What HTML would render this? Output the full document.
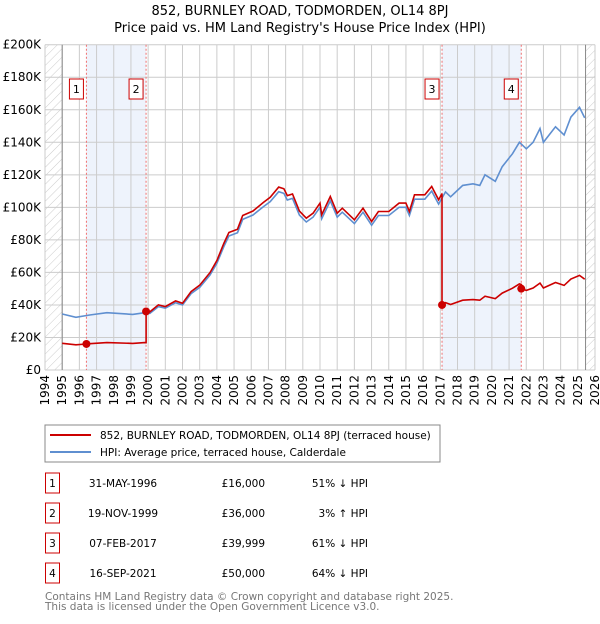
<!DOCTYPE html>
<html><head><meta charset="utf-8"><style>
body{margin:0;background:#fff;font-family:"DejaVu Sans","Liberation Sans",sans-serif;}
svg text{font-family:"DejaVu Sans","Liberation Sans",sans-serif;}
</style></head><body>
<svg id="chart" width="600" height="620" xmlns="http://www.w3.org/2000/svg">
<defs><pattern id="hatch" width="6" height="6" patternUnits="userSpaceOnUse" patternTransform="rotate(45)"><line x1="0" y1="0" x2="0" y2="6" stroke="#ccc" stroke-width="1"/></pattern></defs>
<text x="300" y="15" text-anchor="middle" font-size="13">852, BURNLEY ROAD, TODMORDEN, OL14 8PJ</text>
<text x="300" y="32" text-anchor="middle" font-size="13">Price paid vs. HM Land Registry's House Price Index (HPI)</text>
<g id="plot"></g>
<rect x="45" y="425" width="395" height="37" fill="#fff" stroke="#888"/>
<line x1="50" y1="435" x2="91" y2="435" stroke="#cc0000" stroke-width="2"/>
<text x="100" y="439" font-size="10.5">852, BURNLEY ROAD, TODMORDEN, OL14 8PJ (terraced house)</text>
<line x1="50" y1="452" x2="91" y2="452" stroke="#5f8fd0" stroke-width="2"/>
<text x="100" y="456" font-size="10.5">HPI: Average price, terraced house, Calderdale</text>
<g id="table"></g>
<text x="45" y="600" font-size="10.5" fill="#777">Contains HM Land Registry data © Crown copyright and database right 2025.</text>
<text x="45" y="610" font-size="10.5" fill="#777">This data is licensed under the Open Government Licence v3.0.</text>
</svg>
<script>
const hpiYears=[1995,1995.8,1996.6,1997.6,1999.1,1999.8,2000.1,2000.6,2001,2001.6,2002,2002.5,2003,2003.6,2004,2004.4,2004.7,2005.2,2005.5,2006.1,2006.7,2007.1,2007.6,2007.9,2008.1,2008.4,2008.8,2009.2,2009.6,2010.0,2010.1,2010.6,2011.0,2011.3,2012,2012.5,2013.0,2013.4,2014,2014.6,2015,2015.2,2015.5,2016.1,2016.5,2016.9,2017.3,2017.6,2017.8,2018.3,2018.9,2019.3,2019.6,2020.2,2020.6,2021.2,2021.6,2022.0,2022.4,2022.8,2023.0,2023.7,2024.2,2024.6,2025.1,2025.4];
const hpiValues=[34.4,32.4,33.8,35.2,34.2,35.2,34.8,39,38,41.4,40,47,50.8,58.4,65.6,75.8,82.4,84.4,92.6,95.3,100.4,103.5,109.6,108.6,104.5,105.5,95.3,91,94,100,93,104,94,97,90,97,89,95,95,100,100,95,105,105,110,102,109.5,106.5,108.5,113.5,114.5,113.5,120,116,125,133,140,136,140,148.5,140,149.5,144.5,155.5,161.5,155];
const saleYears=[1996.41,1999.88,2017.10,2021.71];
const salePrices=[16000,36000,39999,50000];
const saleDates=["31-MAY-1996","19-NOV-1999","07-FEB-2017","16-SEP-2021"];
const salePriceLabels=["£16,000","£36,000","£39,999","£50,000"];
const saleHpiLabels=["51% ↓ HPI","3% ↑ HPI","61% ↓ HPI","64% ↓ HPI"];
const yTicks=[0,20,40,60,80,100,120,140,160,180,200];
const xTicks=[1994,1995,1996,1997,1998,1999,2000,2001,2002,2003,2004,2005,2006,2007,2008,2009,2010,2011,2012,2013,2014,2015,2016,2017,2018,2019,2020,2021,2022,2023,2024,2025,2026];

const NS="http://www.w3.org/2000/svg";
const X0=45,X1=595,Y0=370,Y1=44.7,YMIN=1994,YMAX=2026,VMAX=200;
function xs(t){return X0+(t-YMIN)/(YMAX-YMIN)*(X1-X0);}
function ys(v){return Y0-v/VMAX*(Y0-Y1);}
function mk(tag,attrs,parent){const e=document.createElementNS(NS,tag);for(const k in attrs)e.setAttribute(k,attrs[k]);parent.appendChild(e);return e;}
function hpiAt(t){for(let i=0;i<hpiYears.length-1;i++){if(t<=hpiYears[i+1]){const f=(t-hpiYears[i])/(hpiYears[i+1]-hpiYears[i]);return hpiValues[i]+f*(hpiValues[i+1]-hpiValues[i]);}}return hpiValues[hpiValues.length-1];}
const plot=document.getElementById('plot');

for(let i=0;i<saleYears.length;i+=2){
 const b=mk('rect',{x:xs(saleYears[i]),y:Y1,width:xs(saleYears[i+1])-xs(saleYears[i]),height:Y0-Y1,fill:'#eef3fc'},plot);
 
 
}
const h1=mk('rect',{x:X0,y:Y1,width:xs(1995)-X0,height:Y0-Y1,fill:'url(#hatch)'},plot);


const h2=mk('rect',{x:xs(2025.45),y:Y1,width:X1-xs(2025.45),height:Y0-Y1,fill:'url(#hatch)'},plot);


yTicks.forEach(v=>{
 const l=mk('line',{x1:X0,x2:X1,y1:ys(v),y2:ys(v),stroke:'#ccc'},plot);
 
 
 const t=mk('text',{x:X0-4,y:ys(v)+4,'text-anchor':'end','font-size':'12'},plot);
 
 
 t.textContent=v===0?'£0':'£'+v+'K';
});
xTicks.forEach(yr=>{
 const l=mk('line',{x1:xs(yr),x2:xs(yr),y1:Y1,y2:Y0,stroke:'#ccc'},plot);
 
 
 const t=mk('text',{x:0,y:0,'text-anchor':'end','font-size':'12',transform:`translate(${xs(yr)+4},${Y0+5}) rotate(-90)`},plot);
 
 
 t.textContent=yr;
});
[xs(1995),xs(2025.45)].forEach(x=>{
 const l=mk('line',{x1:x,x2:x,y1:Y1,y2:Y0,stroke:'#888'},plot);
 
 
});
saleYears.forEach((t,i)=>{
 const l=mk('line',{x1:xs(t),x2:xs(t),y1:Y1,y2:Y0,stroke:'#f07070','stroke-dasharray':'2,2'},plot);
 
 
});
let d='';hpiYears.forEach((t,i)=>{d+=(i?'L':'M')+xs(t).toFixed(1)+','+ys(hpiValues[i]).toFixed(1);});
const hp=mk('path',{d:d,fill:'none',stroke:'#5f8fd0','stroke-width':1.6},plot);


const ratios=saleYears.map((t,i)=>salePrices[i]/1000/hpiAt(t));
function segIdx(t){let k=0;for(let i=0;i<saleYears.length;i++)if(t>=saleYears[i])k=i;return k;}
const pts=[];
const allT=hpiYears.concat(saleYears).sort((a,b)=>a-b);
allT.forEach(t=>{
 const k=segIdx(t);
 if(saleYears.includes(t)&&k>0){pts.push([t,hpiAt(t)*ratios[k-1]]);}
 pts.push([t,hpiAt(t)*ratios[k]]);
});
let d2='';pts.forEach((p,i)=>{d2+=(i?'L':'M')+xs(p[0]).toFixed(1)+','+ys(p[1]).toFixed(1);});
const pp=mk('path',{d:d2,fill:'none',stroke:'#cc0000','stroke-width':1.6},plot);


saleYears.forEach((t,i)=>{
 const c=mk('circle',{cx:xs(t),cy:ys(salePrices[i]/1000),r:4,fill:'#cc0000'},plot);
 
 
 const g=mk('g',{},plot);
 
 
 mk('rect',{x:xs(t)-17,y:79,width:14,height:20,fill:'#fff',stroke:'#cc0000'},g);
 const tx=mk('text',{x:xs(t)-10,y:93,'text-anchor':'middle','font-size':'11'},g);
 tx.textContent=i+1;
});
const tb=document.getElementById('table');
saleYears.forEach((t,i)=>{
 const cy=483+i*30;
 const g=mk('g',{},tb);
 
 
 mk('rect',{x:45.5,y:cy-10,width:14,height:20,fill:'#fff',stroke:'#cc0000'},g);
 const n=mk('text',{x:52.5,y:cy+4,'text-anchor':'middle','font-size':'10.5'},g);n.textContent=i+1;
 const a=mk('text',{x:123,y:cy+4,'text-anchor':'middle','font-size':'10.5'},g);a.textContent=saleDates[i];
 const b=mk('text',{x:265,y:cy+4,'text-anchor':'end','font-size':'10.5'},g);b.textContent=salePriceLabels[i];
 const c=mk('text',{x:368,y:cy+4,'text-anchor':'end','font-size':'10.5'},g);c.textContent=saleHpiLabels[i];
});
</script>
</body></html>
